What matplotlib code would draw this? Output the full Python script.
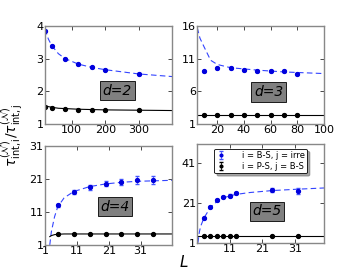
import numpy as np
import matplotlib
matplotlib.use('Agg')
import matplotlib.pyplot as plt

# d=2
L2 = [20, 40, 80, 120, 160, 200, 300]
bs2 = [3.85, 3.39, 3.0, 2.82, 2.73, 2.66, 2.52]
bs2_err = [0.02, 0.02, 0.02, 0.02, 0.02, 0.02, 0.03]
ps2 = [1.53, 1.50, 1.46, 1.44, 1.43, 1.42, 1.42]
ps2_err = [0.01, 0.01, 0.01, 0.01, 0.01, 0.01, 0.01]
fitL2 = [20, 30, 40, 60, 80, 120, 160, 200, 300, 400]
fitbs2 = [3.9, 3.6, 3.4, 3.15, 3.0, 2.83, 2.73, 2.66, 2.53, 2.45]
fitps2 = [1.56, 1.53, 1.51, 1.48, 1.47, 1.45, 1.44, 1.43, 1.42, 1.41]

# d=3
L3 = [10, 20, 30, 40, 50, 60, 70, 80]
bs3 = [9.1, 9.6, 9.6, 9.3, 9.2, 9.1, 9.1, 8.7]
bs3_err = [0.1, 0.1, 0.1, 0.15, 0.15, 0.15, 0.15, 0.2]
ps3 = [2.45, 2.45, 2.45, 2.45, 2.45, 2.45, 2.45, 2.45]
ps3_err = [0.02] * 8
fitL3 = [5, 7, 10, 15, 20, 30, 50, 70, 100]
fitbs3 = [15.8, 14.2, 12.9, 10.8, 10.15, 9.65, 9.28, 9.0, 8.75]
fitps3 = [2.45, 2.45, 2.45, 2.45, 2.45, 2.45, 2.45, 2.45, 2.45]

# d=4
L4 = [5, 10, 15, 20, 25, 30, 35]
bs4 = [12.9, 16.9, 18.4, 19.5, 20.0, 20.5, 20.5]
bs4_err = [0.4, 0.6, 0.7, 0.8, 0.9, 1.2, 1.2]
ps4 = [4.2, 4.3, 4.3, 4.3, 4.3, 4.3, 4.3]
ps4_err = [0.05] * 7
fitL4 = [2.5, 3, 4, 5, 7, 10, 15, 20, 25, 30, 41]
fitbs4 = [1.0, 5.0, 9.5, 12.5, 15.2, 17.1, 18.6, 19.4, 19.9, 20.2, 20.5]
fitps4 = [3.5, 3.8, 4.1, 4.2, 4.3, 4.3, 4.3, 4.3, 4.3, 4.3, 4.3]

# d=5
L5 = [3, 5, 7, 9, 11, 13, 24, 32]
bs5 = [13.2, 18.7, 22.3, 23.7, 24.5, 25.7, 27.3, 26.8]
bs5_err = [0.3, 0.4, 0.5, 0.5, 0.6, 0.6, 0.9, 1.6]
ps5 = [4.5, 4.5, 4.5, 4.5, 4.5, 4.5, 4.5, 4.5]
ps5_err = [0.05] * 8
fitL5 = [1.2, 1.6, 2, 3, 5, 7, 9, 11, 13, 17, 24, 32, 40]
fitbs5 = [1.0, 6.0, 9.0, 13.2, 18.5, 21.5, 23.3, 24.4, 25.1, 26.0, 27.0, 27.7, 28.3]
fitps5 = [4.5] * 13

panels = [
    (L2, bs2, bs2_err, ps2, ps2_err, fitL2, fitbs2, fitps2, (20, 400), (1, 4),
     [100, 200, 300], [1, 2, 3, 4], 'd=2', (0.57, 0.34)),
    (L3, bs3, bs3_err, ps3, ps3_err, fitL3, fitbs3, fitps3, (5, 100), (1, 16),
     [20, 40, 60, 80, 100], [1, 6, 11, 16], 'd=3', (0.565, 0.33)),
    (L4, bs4, bs4_err, ps4, ps4_err, fitL4, fitbs4, fitps4, (1, 41), (1, 31),
     [1, 11, 21, 31], [1, 11, 21, 31], 'd=4', (0.55, 0.385)),
    (L5, bs5, bs5_err, ps5, ps5_err, fitL5, fitbs5, fitps5, (1, 40), (1, 50),
     [11, 21, 31], [1, 21, 41], 'd=5', (0.55, 0.32)),
]

rects = [[0.125, 0.541, 0.353, 0.363],
         [0.548, 0.541, 0.352, 0.361],
         [0.125, 0.093, 0.354, 0.368],
         [0.548, 0.101, 0.352, 0.364]]

fig = plt.figure(figsize=(3.6, 2.7), dpi=100)

for i, p in enumerate(panels):
    L, bs, bse, ps, pse, fl, fb, fp, xl, yl, xt, yt, lab, pos = p
    ax = fig.add_axes(rects[i])
    ax.plot(fl, fb, '--', color='#3344ff', lw=0.8, dashes=(5, 3))
    ax.plot(fl, fp, '-', color='k', lw=0.8)
    ax.errorbar(L, bs, yerr=bse, fmt='o', color='#0000dd', ms=2.8, capsize=1.5,
                elinewidth=0.6, ecolor='#4455ff', label='i = B-S, j = irre')
    ax.errorbar(L, ps, yerr=pse, fmt='o', color='k', ms=2.8, capsize=1.5,
                elinewidth=0.6, label='i = P-S, j = B-S')
    ax.set_xlim(xl)
    ax.set_ylim(yl)
    ax.set_xticks(xt)
    ax.set_yticks(yt)
    ax.tick_params(direction='in', top=True, right=True, labelsize=8,
                   length=3, width=0.5, pad=1)
    for s in ax.spines.values():
        s.set_color('#888888')
        s.set_linewidth(1.0)
    ax.text(pos[0], pos[1], lab, transform=ax.transAxes, ha='center', va='center',
            fontsize=10, style='italic',
            bbox=dict(boxstyle='square,pad=0.2', fc='#808080', ec='k', lw=0.6))
    if i == 3:
        leg = ax.legend(loc='upper center', fontsize=6, numpoints=1, shadow=True,
                        fancybox=True, handlelength=1.0, handletextpad=2.0,
                        borderpad=0.3, labelspacing=0.2, framealpha=1,
                        markerscale=0.7, bbox_to_anchor=(0.5, 1.0))
        leg.get_frame().set_edgecolor('k')
        leg.get_frame().set_linewidth(0.6)

fig.text(0.035, 0.5, r'$\tau_{\rm int,i}^{(\mathcal{N})}/\tau_{\rm int,j}^{(\mathcal{N})}$',
         rotation=90, ha='center', va='center', fontsize=10)
fig.text(0.51, 0.03, r'$L$', ha='center', va='center', fontsize=11)

fig.savefig('out.png', dpi=100)
